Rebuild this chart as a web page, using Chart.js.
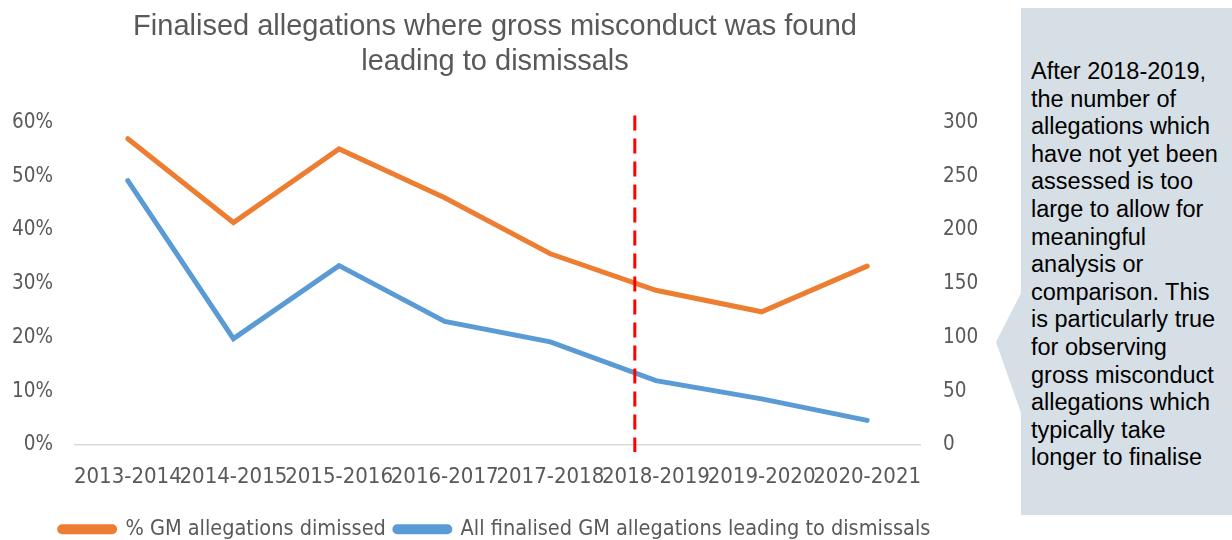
<!DOCTYPE html>
<html>
<head>
<meta charset="utf-8">
<script src="https://cdn.jsdelivr.net/npm/chart.js@4.4.0/dist/chart.umd.min.js"></script>
<style>
  body { margin: 0; background: #fff; }
  #wrap { position: relative; width: 1232px; height: 540px; }
  #note {
    position: absolute; left: 996px; top: 8px; width: 236px; height: 507px;
    background: #d6dfe5;
    clip-path: polygon(25px 0, 236px 0, 236px 507px, 25px 507px, 25px 405px, 0 334px, 25px 285px);
  }
  #note div {
    position: absolute; left: 35px; top: 50px;
    font-family: "Liberation Sans", Arial, sans-serif; font-size: 23.5px; line-height: 27.6px;
    color: #000; white-space: nowrap;
  }
</style>
</head>
<body>
<div id="wrap">
  <canvas id="chart"></canvas>
  <div id="note"><div>After 2018-2019,<br>the number of<br>allegations which<br>have not yet been<br>assessed is too<br>large to allow for<br>meaningful<br>analysis or<br>comparison. This<br>is particularly true<br>for observing<br>gross misconduct<br>allegations which<br>typically take<br>longer to finalise</div></div>
</div>
<script>
const years = ['2013-2014', '2014-2015', '2015-2016', '2016-2017', '2017-2018', '2018-2019', '2019-2020', '2020-2021'];
const pctDismissed = [0.57, 0.414, 0.551, 0.46, 0.356, 0.288, 0.248, 0.333];
const dismissals = [246, 99, 167, 115, 96, 60, 43, 23];
const markerPos = 4.8; // dashed line sits between 2017-2018 and 2018-2019

const condensed = '"DejaVu Sans Condensed", "Liberation Sans Narrow", sans-serif';
const grey = '#595959';

// red dashed divider
const dividerLine = {
  id: 'dividerLine',
  afterDatasetsDraw(chart) {
    const xs = chart.scales.x;
    const i = Math.floor(markerPos);
    const x = xs.getPixelForValue(i) + (markerPos - i) * (xs.getPixelForValue(i + 1) - xs.getPixelForValue(i));
    const { top, bottom } = chart.chartArea;
    const ctx = chart.ctx;
    ctx.save();
    ctx.strokeStyle = '#ff0000';
    ctx.lineWidth = 3;
    ctx.setLineDash([15, 8]);
    ctx.beginPath();
    ctx.moveTo(x, top - 7);
    ctx.lineTo(x, bottom + 7);
    ctx.stroke();
    ctx.restore();
  }
};

new Chart(document.getElementById('chart'), {
  type: 'line',
  data: {
    labels: years,
    datasets: [
      {
        label: '% GM allegations dimissed',
        data: pctDismissed,
        yAxisID: 'y',
        borderColor: '#ED7D31',
        backgroundColor: '#ED7D31',
        borderWidth: 5,
        pointRadius: 0,
        borderCapStyle: 'round',
        tension: 0
      },
      {
        label: 'All finalised GM allegations leading to dismissals',
        data: dismissals,
        yAxisID: 'y1',
        borderColor: '#5B9BD5',
        backgroundColor: '#5B9BD5',
        borderWidth: 5,
        pointRadius: 0,
        borderCapStyle: 'round',
        tension: 0
      }
    ]
  },
  options: {
    responsive: true,
    maintainAspectRatio: false,
    animation: false,
    layout: { padding: { left: 0, right: 242, top: 0, bottom: -10 } },
    plugins: {
      title: {
        display: true,
        text: ['Finalised allegations where gross misconduct was found', 'leading to dismissals'],
        color: grey,
        font: { family: '"Liberation Sans", Arial, sans-serif', size: 29, weight: 'normal', lineHeight: 1.2 },
        padding: { top: 10, bottom: 43 }
      },
      legend: {
        position: 'bottom',
        labels: {
          color: grey,
          font: { family: condensed, size: 21.5 },
          boxWidth: 55,
          boxHeight: 5,
          useBorderRadius: true,
          borderRadius: 2.5,
          padding: 9
        }
      },
      tooltip: { enabled: false }
    },
    scales: {
      x: {
        offset: true,
        grid: { display: false, drawTicks: false, offset: true },
        border: { display: true, color: '#d9d9d9', width: 1.5 },
        ticks: { color: grey, font: { family: condensed, size: 22 }, autoSkip: false, maxRotation: 0, padding: 19 }
      },
      y: {
        position: 'left',
        min: 0,
        max: 0.6,
        grid: { display: false, drawTicks: false },
        border: { display: false },
        ticks: {
          stepSize: 0.1,
          color: grey,
          font: { family: condensed, size: 20.5 },
          padding: 22,
          callback: v => Math.round(v * 100) + '%'
        },
        afterFit: s => { s.width = 75; }
      },
      y1: {
        position: 'right',
        min: 0,
        max: 300,
        grid: { display: false, drawTicks: false },
        border: { display: false },
        ticks: { stepSize: 50, color: grey, font: { family: condensed, size: 20.5 }, padding: 23 },
        afterFit: s => { s.width = 70; }
      }
    }
  },
  plugins: [dividerLine]
});
</script>
</body>
</html>
